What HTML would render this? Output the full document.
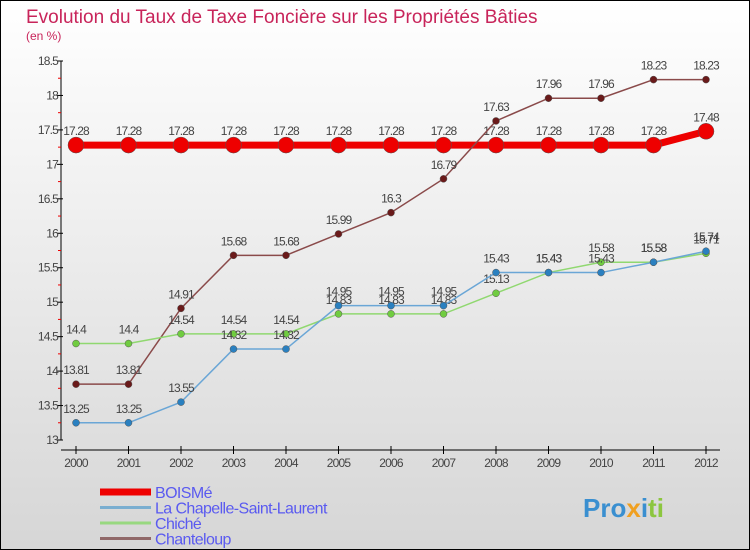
<!DOCTYPE html>
<html><head><meta charset="utf-8"><style>
body{margin:0;}
#c{width:750px;height:550px;position:relative;overflow:hidden;}
svg{display:block;font-family:"Liberation Sans",sans-serif;}
</style></head><body>
<div id="c">
<svg id="s" width="750" height="550" xmlns="http://www.w3.org/2000/svg">
<defs><linearGradient id="bg" x1="0" y1="0" x2="0" y2="1"><stop offset="0" stop-color="#ffffff"/><stop offset="1" stop-color="#d6d6d6"/></linearGradient></defs>
<rect x="0.5" y="0.5" width="749" height="549" fill="url(#bg)" stroke="#000"/>
<text x="26" y="23" font-size="19" fill="#c8245a">Evolution du Taux de Taxe Foncière sur les Propriétés Bâties</text>
<text x="26" y="40" font-size="12" fill="#c8245a">(en %)</text>
<g id="axes"></g><g id="series"></g><g id="legend"></g>
<text x="583" y="517" font-size="26" font-weight="bold" fill="#3a8fd0">Pro<tspan fill="#f0a020">x</tspan><tspan fill="#3a8fd0">i</tspan><tspan fill="#8cc63f">ti</tspan></text>
</svg></div>
<script>
const years=[2000,2001,2002,2003,2004,2005,2006,2007,2008,2009,2010,2011,2012];
const yTicks=[13,13.5,14,14.5,15,15.5,16,16.5,17,17.5,18,18.5];
const seriesNames=["BOISMé","La Chapelle-Saint-Laurent","Chiché","Chanteloup"];
const boisme=[17.28,17.28,17.28,17.28,17.28,17.28,17.28,17.28,17.28,17.28,17.28,17.28,17.48];
const chapelle=[13.25,13.25,13.55,14.32,14.32,14.95,14.95,14.95,15.43,15.43,15.43,15.58,15.74];
const chiche=[14.4,14.4,14.54,14.54,14.54,14.83,14.83,14.83,15.13,15.43,15.58,15.58,15.71];
const chanteloup=[13.81,13.81,14.91,15.68,15.68,15.99,16.3,16.79,17.63,17.96,17.96,18.23,18.23];
const NS="http://www.w3.org/2000/svg";
const X=i=>76+i*52.5;
const Y=v=>440-(v-13)*(379/5.5);
function mk(p,t,a){const e=document.createElementNS(NS,t);for(const k in a)e.setAttribute(k,a[k]);p.appendChild(e);return e;}
const ax=document.getElementById('axes');
const yl=mk(ax,'line',{x1:61,y1:Y(18.5),x2:61,y2:Y(13),stroke:'#000'});


const xl=mk(ax,'line',{x1:61,y1:450,x2:720,y2:450,stroke:'#000'});


yTicks.forEach(v=>{
 mk(ax,'line',{x1:57,y1:Y(v),x2:63,y2:Y(v),stroke:'#000'});
 if(v<18.5) mk(ax,'line',{x1:58,y1:Y(v+0.25),x2:61,y2:Y(v+0.25),stroke:'#e00'});
 const t=mk(ax,'text',{x:58,y:Y(v)+4,'font-size':12,'text-anchor':'end',fill:'#444','letter-spacing':'-0.8'});
 t.textContent=String(v);
 
 
});
years.forEach((yr,i)=>{
 mk(ax,'line',{x1:X(i),y1:446,x2:X(i),y2:454,stroke:'#000'});
 const t=mk(ax,'text',{x:X(i),y:467,'font-size':12,'text-anchor':'middle',fill:'#444','letter-spacing':'-0.8'});
 t.textContent=String(yr);
 
 
});
const sg=document.getElementById('series');
const defs=[[boisme,'#ee0000',7,8,'#ee0000','boisme'],[chanteloup,'#8a4a4a',1.5,3.5,'#6a1a1a','chanteloup'],[chiche,'#90d870',1.5,3.5,'#70cc40','chiche'],[chapelle,'#6aa6d6',1.5,3.5,'#2a80c0','chapelle']];
defs.forEach(([d,c,w,r,pc,nm])=>{
 const g=mk(sg,'g',{});
 
 
 const pl=mk(g,'polyline',{points:d.map((v,i)=>X(i)+','+Y(v)).join(' '),fill:'none',stroke:c,'stroke-width':w});
 
 
 d.forEach((v,i)=>{
  const p=mk(g,'circle',{cx:X(i),cy:Y(v),r:r,fill:pc,stroke:'#555','stroke-width':0.5});
  
  
  const t=mk(g,'text',{x:X(i),y:Y(v)-10,'font-size':12,'text-anchor':'middle',fill:'#444','letter-spacing':'-0.9'});
  t.textContent=String(v);
  
  
 });
});
const lg=document.getElementById('legend');
const lc=[['#ee0000',7],['#7aaed0',3],['#98d880',3],['#906868',3]];
seriesNames.forEach((n,i)=>{
 const y=492+i*15.5;
 const l=mk(lg,'line',{x1:100,y1:y,x2:151,y2:y,stroke:lc[i][0],'stroke-width':lc[i][1]});
 
 
 const t=mk(lg,'text',{x:155,y:y+6,'font-size':16,fill:'#5a5af0','letter-spacing':'-0.6'});
 t.textContent=n;
 
 
});
</script>
</body></html>
